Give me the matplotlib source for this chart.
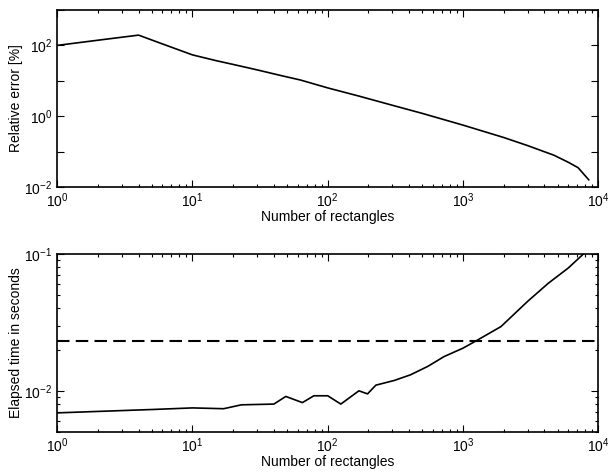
import numpy as np
import matplotlib
matplotlib.use("Agg")
import matplotlib.pyplot as plt
from matplotlib.ticker import LogLocator, NullFormatter, FixedLocator, FixedFormatter

plt.rcParams["font.family"] = ["Liberation Sans", "DejaVu Sans"]
plt.rcParams["mathtext.fontset"] = "custom"
plt.rcParams["mathtext.rm"] = "Liberation Sans"
plt.rcParams["mathtext.it"] = "Liberation Sans"

# relative error vs number of rectangles
err_n = [1, 2, 3, 4, 6, 10, 15, 20, 30, 45, 63, 100, 170, 300, 500,
         1000, 2000, 3000, 4700, 6000, 7100, 8500]
err_pct = [100, 140, 170, 195, 110, 54, 37, 29, 20.4, 14.1, 10.5, 6.3, 3.7, 2.04, 1.2,
           0.56, 0.25, 0.148, 0.079, 0.050, 0.035, 0.016]

# elapsed time vs number of rectangles
time_n = [1, 5, 10, 17, 23, 40, 49, 65, 79, 100, 125, 170, 197, 227, 310, 410,
          550, 725, 1000, 1280, 1910, 3000, 4260, 6000, 7760, 8500]
time_s = [0.0069, 0.0073, 0.0075, 0.0074, 0.0079, 0.0080, 0.0091, 0.0082, 0.0092,
          0.0092, 0.0080, 0.0100, 0.0095, 0.0110, 0.0119, 0.0131, 0.0151, 0.0178,
          0.0205, 0.0235, 0.0295, 0.045, 0.061, 0.079, 0.100, 0.107]
ref_time = 0.023

x_decades = [0, 1, 2, 3, 4]
err_decades = [-2, -1, 0, 1, 2, 3]
err_labelled = [-2, 0, 2]
time_decades = [-2, -1]


def style_axes(ax):
    ax.set_xscale("log")
    ax.set_yscale("log")
    ax.tick_params(which="both", direction="in", top=True, right=True,
                   labelsize=10, width=0.8)
    ax.tick_params(which="major", length=5)
    ax.tick_params(which="minor", length=2.5)
    for sp in ax.spines.values():
        sp.set_linewidth(1.2)
    ax.set_xlim(1, 1e4)
    ax.set_xticks([10.0 ** k for k in x_decades])
    ax.set_xticklabels([f"$10^{{{k}}}$" for k in x_decades])
    ax.xaxis.set_minor_locator(LogLocator(base=10, subs=np.arange(2, 10)))
    ax.xaxis.set_minor_formatter(NullFormatter())
    ax.set_xlabel("Number of rectangles", fontsize=10, labelpad=0)


fig = plt.figure(figsize=(6.08, 4.74), dpi=100)

ax1 = fig.add_axes([0.094, 0.6055, 0.890, 0.3734])
ax1.plot(err_n, err_pct, color="black", lw=1.2)
style_axes(ax1)
ax1.set_ylim(1e-2, 1e3)
ax1.yaxis.set_major_locator(FixedLocator([10.0 ** k for k in err_decades]))
ax1.yaxis.set_major_formatter(FixedFormatter(
    [f"$10^{{{k}}}$" if k in err_labelled else "" for k in err_decades]))
ax1.yaxis.set_minor_locator(FixedLocator([]))
ax1.set_ylabel("Relative error [%]", fontsize=10, labelpad=1)

ax2 = fig.add_axes([0.094, 0.0886, 0.890, 0.3755])
ax2.plot(time_n, time_s, color="black", lw=1.2)
ax2.axhline(ref_time, color="black", lw=1.5, ls=(0, (6, 3)))
style_axes(ax2)
ax2.set_ylim(0.005, 0.1)
ax2.set_yticks([10.0 ** k for k in time_decades])
ax2.set_yticklabels([f"$10^{{{k}}}$" for k in time_decades])
ax2.yaxis.set_minor_locator(LogLocator(base=10, subs=np.arange(2, 10)))
ax2.yaxis.set_minor_formatter(NullFormatter())
ax2.set_ylabel("Elapsed time in seconds", fontsize=10, labelpad=1)

fig.savefig("out.png", dpi=100)
